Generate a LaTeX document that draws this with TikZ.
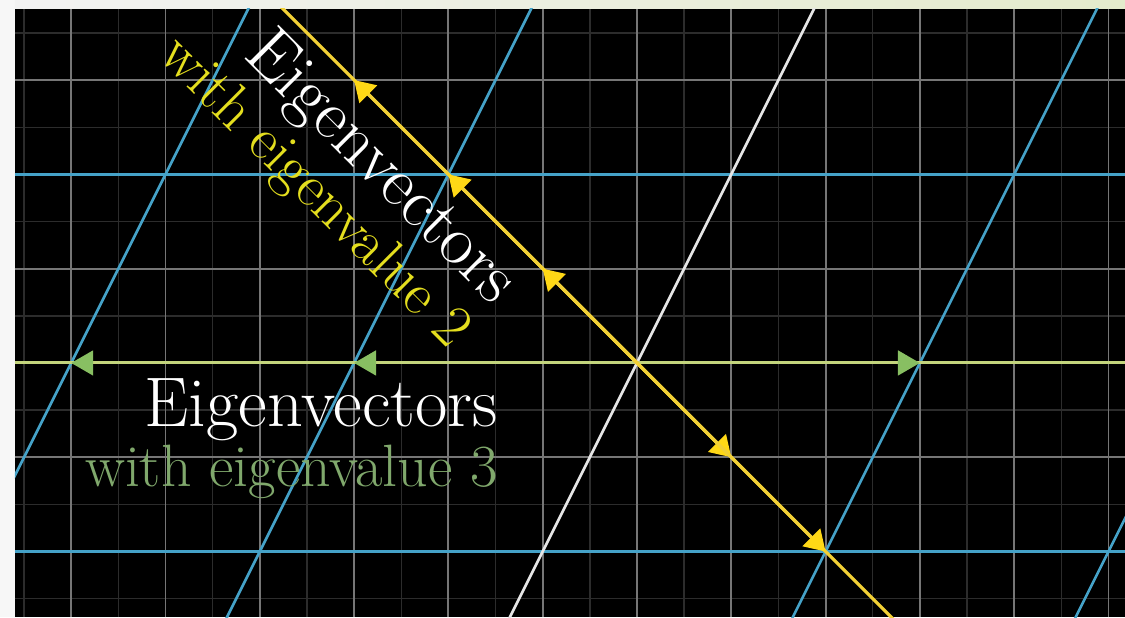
\documentclass[tikz,border=0pt]{standalone}
\usepackage{fontspec}
\usetikzlibrary{arrows.meta}

\begin{document}
\begin{tikzpicture}[x=1.886cm, y=1.886cm,
    gridMinor/.style={draw=minorColour, line width=0.8pt},
    gridMajor/.style={draw=majorColour, line width=1.1pt},
    blueLine/.style={draw=blueColour, line width=1.5pt},
    whiteLine/.style={draw=whiteColour, line width=1.5pt},
    greenLine/.style={draw=greenColour, line width=1.7pt},
    yellowLine/.style={draw=yellowColour, line width=1.8pt},
    greenVec/.style={greenLine, -{Triangle[length=12.5pt, width=14pt, color=greenTip]}},
    yellowVec/.style={yellowLine, -{Triangle[length=11.5pt, width=14pt, color=yellowTip]}},
    bigText/.style={anchor=base east, inner sep=0pt, font=\fontsize{40}{44}\selectfont},
    smallText/.style={anchor=base east, inner sep=0pt, font=\fontsize{34}{38}\selectfont}]
    \def\xL{-6.596}
    \def\xR{5.175}
    \def\yB{-2.694}
    \def\yT{3.754}

    \definecolor{minorColour}{HTML}{2C2C2C}
    \definecolor{majorColour}{HTML}{767676}
    \definecolor{blueColour}{HTML}{45A2C8}
    \definecolor{whiteColour}{HTML}{E6E6E6}
    \definecolor{greenColour}{HTML}{C3D47C}
    \definecolor{greenTip}{HTML}{88BF62}
    \definecolor{greenText}{HTML}{80A86C}
    \definecolor{yellowColour}{HTML}{F2D036}
    \definecolor{yellowTip}{HTML}{FFD816}
    \definecolor{yellowText}{HTML}{E4DE1E}

    \useasboundingbox (-6.755,\yB) rectangle (\xR,3.849);

    % Frame round the screen
    \fill[black!3] (-6.755,\yB) rectangle (\xR,3.849);
    \shade[left color=black!5, right color={rgb,255:red,228;green,235;blue,204}] (\xL,\yT) rectangle (\xR,3.849);
    \fill[black] (\xL,\yB) rectangle (\xR,\yT);

    \begin{scope}
    \clip (\xL,\yB) rectangle (\xR,\yT);

    % Draw grid
    \draw[gridMinor, step=0.5] (\xL,\yB) grid (\xR,\yT);
    \draw[gridMajor, step=1] (\xL,\yB) grid (\xR,\yT);

    % Transformed grid
    \foreach \y in {-2,2}
        \draw[blueLine] (\xL,\y) -- (\xR,\y);
    \foreach \a in {-2,-1,1,2}
        \draw[blueLine] (3*\a-1.5,-3) -- (3*\a+2,4);
    \draw[whiteLine] (-1.5,-3) -- (2,4);

    % Eigenlines
    \coordinate (O) at (0,0);
    \draw[greenLine] (\xL,0) -- (\xR,0);
    \draw[yellowLine] (-4,4) -- (3,-3);

    % Eigenvectors
    \foreach \k in {-6,-3,3}
        \coordinate (gTip\k) at (\k,0);
    \foreach \k in {-6,-3,3}
        \draw[greenVec] (O) -- (gTip\k);
    \foreach \k in {-3,-2,-1,1,2}
        \coordinate (yTip\k) at (\k,-\k);
    \foreach \k in {-3,-2,-1,1,2}
        \draw[yellowVec] (O) -- (yTip\k);
    \end{scope}

    % Labels
    \node[bigText, text=white, rotate=-45] (evTwo) at (-1.53,0.60) {Eigenvectors};
    \node[smallText, text=yellowText, rotate=-45] (evTwoSub) at (-1.99,0.14) {with eigenvalue 2};
    \node[bigText, text=white] (evThree) at (-1.47,-0.679) {Eigenvectors};
    \node[smallText, text=greenText] (evThreeSub) at (-1.47,-1.315) {with eigenvalue 3};

\end{tikzpicture}
\end{document}
